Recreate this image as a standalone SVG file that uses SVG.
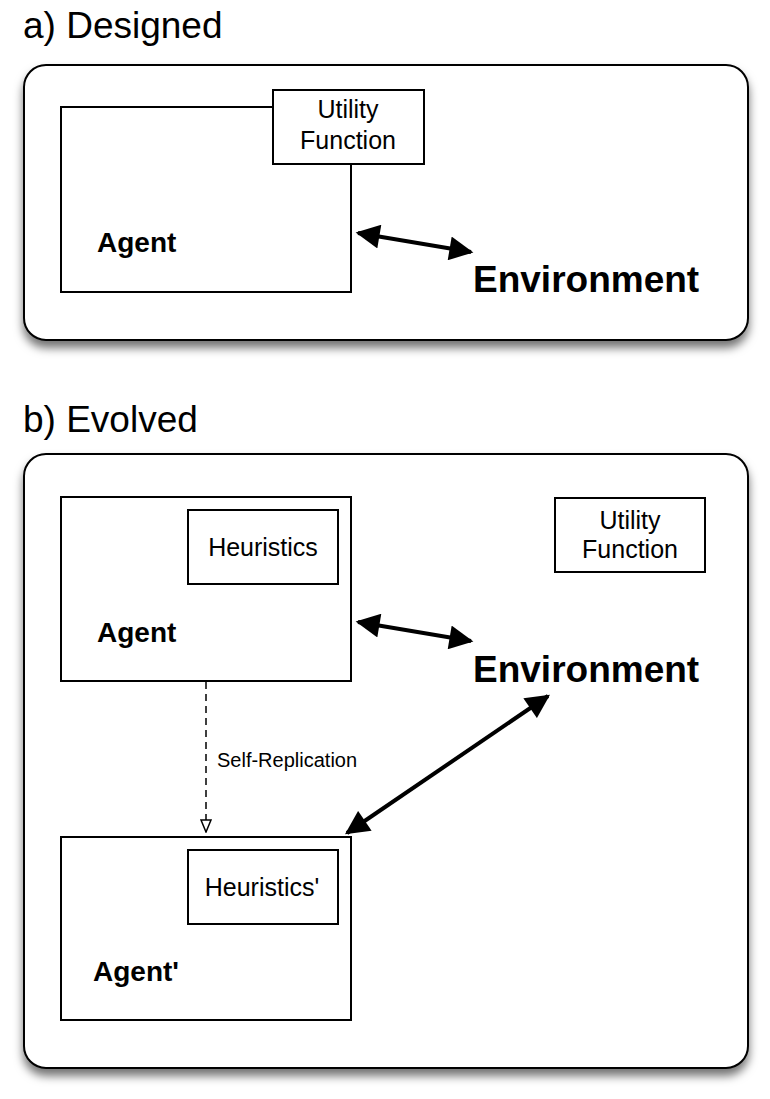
<svg xmlns="http://www.w3.org/2000/svg" width="770" height="1099" viewBox="0 0 770 1099">
<style>
.panel{fill:#fff;stroke:#000;stroke-width:2}
.box{fill:#fff;stroke:#000;stroke-width:2}
.title{font-family:"Liberation Sans",Arial,sans-serif;font-size:37px;fill:#000}
.lbl{font-family:"Liberation Sans",Arial,sans-serif;font-size:25px;fill:#000;text-anchor:middle}
.agent{font-family:"Liberation Sans",Arial,sans-serif;font-size:28px;font-weight:bold;fill:#000}
.env{font-family:"Liberation Sans",Arial,sans-serif;font-size:37px;font-weight:bold;fill:#000}
.small{font-family:"Liberation Sans",Arial,sans-serif;font-size:20px;fill:#000}
.arr{stroke:#000;stroke-width:4;fill:none;marker-start:url(#ah);marker-end:url(#ah)}
.dash{stroke:#000;stroke-width:1.5;stroke-dasharray:7,5;fill:none}
</style>
<defs>
<filter id="sh" x="-5%" y="-5%" width="110%" height="120%">
<feDropShadow dx="0" dy="7" stdDeviation="5" flood-color="#000" flood-opacity="0.55"/>
</filter>
<marker id="ah" viewBox="0 0 10 10" refX="9" refY="5" markerWidth="6.5" markerHeight="6" orient="auto-start-reverse" markerUnits="strokeWidth">
<path d="M0,0 L10,5 L0,10 Z" fill="#000"/>
</marker>
<marker id="tri" viewBox="0 0 12 14" refX="6" refY="13" markerWidth="12" markerHeight="14" orient="0" markerUnits="userSpaceOnUse">
<path d="M1,1 L11,1 L6,13 Z" fill="#fff" stroke="#000" stroke-width="1.5"/>
</marker>
</defs>

<text class="title" x="23" y="38">a) Designed</text>
<g id="panelA">
<rect class="panel" x="24" y="65" width="724" height="275" rx="22" filter="url(#sh)"/>
</g>
<g id="agentA">
<rect class="box" x="61" y="107" width="290" height="185"/>
<text class="agent" x="97" y="252">Agent</text>
</g>
<g id="utilityA">
<rect class="box" x="273" y="90" width="151" height="74"/>
<text class="lbl" x="348" y="118">Utility</text>
<text class="lbl" x="348" y="149">Function</text>
</g>
<g id="envA">
<text class="env" x="473" y="292">Environment</text>
</g>

<text class="title" x="23" y="432">b) Evolved</text>
<g id="panelB">
<rect class="panel" x="24" y="454" width="724" height="614" rx="22" filter="url(#sh)"/>
</g>
<g id="agentB">
<rect class="box" x="61" y="497" width="290" height="184"/>
<text class="agent" x="97" y="642">Agent</text>
</g>
<g id="heuristics">
<rect class="box" x="188" y="510" width="150" height="74"/>
<text class="lbl" x="263" y="556">Heuristics</text>
</g>
<g id="utilityB">
<rect class="box" x="555" y="498" width="150" height="74"/>
<text class="lbl" x="630" y="529">Utility</text>
<text class="lbl" x="630" y="558">Function</text>
</g>
<g id="envB">
<text class="env" x="473" y="682">Environment</text>
</g>
<g id="agentB2">
<rect class="box" x="61" y="837" width="290" height="183"/>
<text class="agent" x="93" y="981">Agent'</text>
</g>
<g id="heuristics2">
<rect class="box" x="188" y="850" width="150" height="74"/>
<text class="lbl" x="262" y="896">Heuristics'</text>
</g>

<g id="connectors">
<line class="arr" x1="358" y1="233" x2="471" y2="252"/>
<line class="arr" x1="358" y1="622" x2="471" y2="641"/>
<line class="arr" x1="548" y1="696" x2="347" y2="833"/>
<line class="dash" x1="206" y1="682" x2="206" y2="832" marker-end="url(#tri)"/>
<text class="small" x="217" y="767">Self-Replication</text>
</g>
</svg>
